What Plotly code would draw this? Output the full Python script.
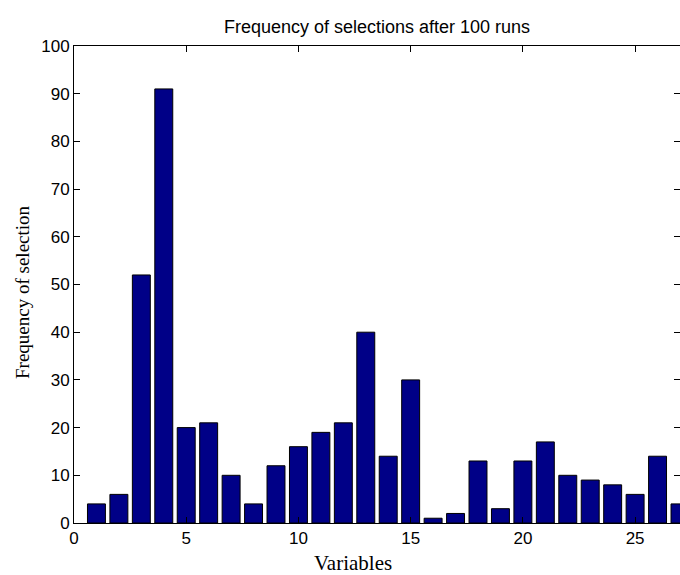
import plotly.graph_objects as go

variables = list(range(1, 28))
frequency = [4, 6, 52, 91, 20, 21, 10, 4, 12, 16, 19, 21, 40, 14, 30, 1, 2, 13, 3, 13, 17, 10, 9, 8, 6, 14, 4]
x_ticks = [0, 5, 10, 15, 20, 25]
y_ticks = [0, 10, 20, 30, 40, 50, 60, 70, 80, 90, 100]

title_text = "Frequency of selections after 100 runs"
x_label = "Variables"
y_label = "Frequency of selection"

sans = "Liberation Sans, Arial, sans-serif"
serif = "Liberation Serif, Times New Roman, serif"

fig = go.Figure()
fig.add_trace(go.Bar(
    x=variables, y=frequency, width=0.8,
    marker=dict(color="rgb(0,0,135)", line=dict(color="black", width=1)),
    showlegend=False, hoverinfo="skip",
))
fig.add_trace(go.Scatter(
    x=variables, y=frequency, yaxis="y2", mode="markers",
    marker=dict(opacity=0), showlegend=False, hoverinfo="skip",
))

fig.update_layout(
    width=680, height=575,
    margin=dict(l=74, r=0, t=46, b=52),
    paper_bgcolor="white", plot_bgcolor="white",
    title=dict(text=title_text, x=0.5, xref="paper", xanchor="center",
               y=1 - 27 / 575, yanchor="middle",
               font=dict(family=sans, size=18, color="black")),
    xaxis=dict(range=[0, 27], tickvals=x_ticks, ticks="inside", ticklen=6,
               tickcolor="black", showline=True, linecolor="black", linewidth=1,
               mirror="ticks", showgrid=False, zeroline=False,
               tickfont=dict(family=sans, size=17, color="black")),
    yaxis=dict(range=[0, 100], tickvals=y_ticks, ticks="inside", ticklen=6,
               tickcolor="black", showline=True, linecolor="black", linewidth=1,
               showgrid=False, zeroline=False,
               tickfont=dict(family=sans, size=17, color="black")),
    yaxis2=dict(range=[0, 100], tickvals=y_ticks, ticks="inside", ticklen=6,
                tickcolor="black", showline=False, overlaying="y", side="right",
                showticklabels=False, showgrid=False, zeroline=False),
    annotations=[
        dict(text=x_label, xref="paper", yref="paper", x=(353 - 74) / 606,
             y=-(563 - 523) / 477, xanchor="center", yanchor="middle",
             showarrow=False, font=dict(family=serif, size=21, color="black")),
        dict(text=y_label, xref="paper", yref="paper", x=-(74 - 22) / 606,
             y=(523 - 292) / 477, xanchor="center", yanchor="middle", textangle=-90,
             showarrow=False, font=dict(family=serif, size=19, color="black")),
    ],
)

fig.write_html("out.html")
